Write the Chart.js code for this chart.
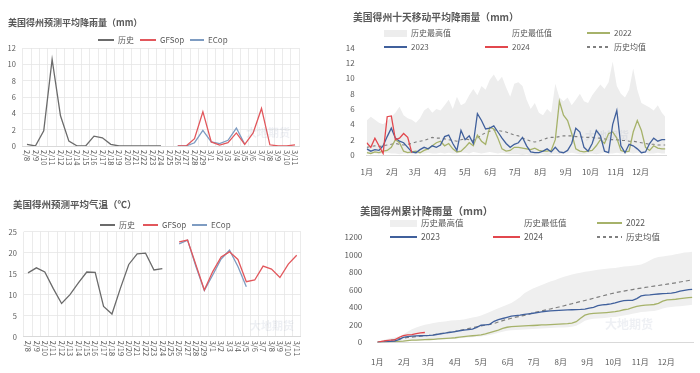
<!DOCTYPE html>
<html>
<head>
<meta charset="utf-8">
<script src="https://cdn.jsdelivr.net/npm/chart.js@4.4.1/dist/chart.umd.min.js"></script>
<style>
  body { margin: 0; width: 700px; height: 373px; position: relative; overflow: hidden; background: #fff;
         font-family: "Noto Sans CJK SC", "Noto Sans", sans-serif; color: #595959; }
  canvas { position: absolute; }
  .title { position: absolute; font-weight: bold; white-space: nowrap; line-height: 1; color: #595959; }
  .lg { position: absolute; white-space: nowrap; line-height: 1; color: #595959; }
  .mk { position: absolute; }
  .wm { position: absolute; white-space: nowrap; line-height: 1; font-weight: bold; color: rgba(120,140,170,0.13); }
</style>
</head>
<body>
<script>
// ---- forecast panels (left) ----
const dateLabels = ['2/8','2/9','2/10','2/11','2/12','2/13','2/14','2/15','2/16','2/17','2/18','2/19','2/20','2/21','2/22','2/23','2/24','2/25','2/26','2/27','2/28','2/29','3/1','3/2','3/3','3/4','3/5','3/6','3/7','3/8','3/9','3/10','3/11'];

const rainHist = [0.2, 0, 1.85, 10.6, 3.7, 0.6, 0, 0, 1.2, 1.0, 0.2, 0, 0, 0, 0, 0, 0,
  null, null, null, null, null, null, null, null, null, null, null, null, null, null, null, null];
const rainGfs = [null, null, null, null, null, null, null, null, null, null, null, null, null, null, null, null, null, null,
  0, 0, 0.9, 4.2, 0.5, 0.1, 0.4, 1.6, 0.2, 1.6, 4.6, 0.15, 0, 0, 0.15];
const rainEc = [null, null, null, null, null, null, null, null, null, null, null, null, null, null, null, null, null, null,
  0, 0, 0.4, 1.9, 0.5, 0.3, 0.7, 2.2, 0.2, null, null, null, null, null, null];

const tempHist = [15.2, 16.4, 15.4, 11.5, 7.9, 10.0, 12.8, 15.4, 15.3, 7.2, 5.4, 11.5, 17.2, 19.7, 19.9, 15.9, 16.2,
  null, null, null, null, null, null, null, null, null, null, null, null, null, null, null, null];
const tempGfs = [null, null, null, null, null, null, null, null, null, null, null, null, null, null, null, null, null, null,
  22.6, 23.0, 17.1, 11.1, 15.5, 19.0, 20.2, 18.4, 13.1, 13.5, 16.8, 16.1, 14.1, 17.3, 19.4];
const tempEc = [null, null, null, null, null, null, null, null, null, null, null, null, null, null, null, null, null, null,
  22.1, 23.0, 16.7, 11.0, 14.7, 18.5, 20.6, 16.7, 11.9, null, null, null, null, null, null];

// ---- seasonal panels (right), one value every 5 days from Jan 1, last one Dec 31 ----
const monthLabels = ['1月','2月','3月','4月','5月','6月','7月','8月','9月','10月','11月','12月'];
const monthStarts = [0, 31, 59, 90, 120, 151, 181, 212, 243, 273, 304, 334];

const max10 = [4.5, 5.0, 4.6, 4.2, 4.0, 4.4, 5.0,  5.5, 6.3, 5.2, 4.8, 4.6,  4.2, 4.8, 5.8, 6.2, 5.5, 6.0,
  5.8, 6.5, 7.2, 6.0, 7.6, 6.5,  6.8, 7.8, 8.6, 7.8, 9.0, 8.5, 9.8,  10.5, 9.6, 10.2, 8.8, 7.6, 9.3,
  9.5, 9.0, 7.2, 6.0, 6.8, 5.5,  5.2, 6.0, 5.5, 9.3, 7.5, 7.0,  7.5, 6.5, 7.2, 8.0, 7.0, 6.8,
  7.8, 8.5, 9.2, 8.6, 9.5, 12.2,  9.0, 8.0, 7.5, 8.5, 11.3, 8.5,  6.8, 6.5, 6.2, 5.8, 6.5, 5.5,  5.0];
const min10 = [0.3, 0.2, 0.2, 0.1, 0.2, 0.3, 0.2,  0.2, 0.1, 0.2, 0.2, 0.1,  0.1, 0.2, 0.2, 0.3, 0.2, 0.2,
  0.3, 0.2, 0.3, 0.2, 0.2, 0.3,  0.3, 0.2, 0.4, 0.3, 0.2, 0.3, 0.4,  0.3, 0.2, 0.3, 0.2, 0.1, 0.1,
  0.1, 0.0, 0.1, 0.0, 0.0, 0.1,  0.1, 0.0, 0.1, 0.2, 0.1, 0.2,  0.2, 0.3, 0.2, 0.1, 0.1, 0.2,
  0.2, 0.1, 0.2, 0.3, 0.2, 0.2,  0.3, 0.2, 0.2, 0.3, 0.2, 0.3,  0.2, 0.3, 0.2, 0.2, 0.3, 0.2,  0.2];
const avg10 = [1.0, 1.1, 1.2, 1.1, 1.2, 1.3, 1.4,  1.5, 1.4, 1.3, 1.4, 1.5,  1.7, 1.8, 1.9, 2.1, 2.3, 2.2,
  2.2, 2.1, 2.0, 1.9, 1.8, 2.0,  2.1, 2.0, 1.9, 2.2, 2.6, 2.9, 3.1,  3.3, 3.2, 3.1, 3.0, 2.8, 2.6,
  2.5, 2.2, 2.0, 1.8, 1.7, 1.8,  2.0, 2.2, 2.3, 2.3, 2.4, 2.5,  2.5, 2.5, 2.4, 2.4, 2.3, 2.3,
  2.3, 2.2, 2.2, 2.1, 2.0, 2.0,  2.0, 1.9, 1.9, 1.8, 1.8, 1.7,  1.6, 1.5, 1.4, 1.4, 1.3, 1.3,  1.3];
const y2022_10 = [0.3, 0.2, 0.4, 0.3, 0.5, 0.6, 1.0,  2.0, 1.6, 0.5, 0.3, 0.4,  0.5, 0.3, 0.6, 0.8, 1.2, 1.6,
  1.8, 1.2, 1.5, 0.8, 0.4, 0.5,  1.0, 1.6, 1.2, 2.6, 1.8, 1.4, 3.6,  3.4, 2.2, 0.8, 0.5, 0.6, 1.0,
  1.0, 0.9, 0.8, 0.7, 0.9, 0.6,  0.5, 0.5, 0.6, 2.0, 7.0, 5.2,  4.5, 2.8, 0.8, 0.5, 0.4, 0.5,
  0.6, 1.2, 2.0, 1.5, 2.8, 3.0,  2.2, 0.6, 0.4, 0.5, 3.0, 4.5,  3.2, 1.0, 0.6, 1.2, 0.9, 0.8,  0.8];
const y2023_10 = [0.8, 0.5, 0.7, 0.6, 1.2, 2.4, 3.5,  2.2, 1.8, 1.6, 1.0, 0.4,  0.3, 0.7, 1.0, 0.8, 1.2, 1.0,
  1.3, 2.4, 2.6, 1.5, 0.6, 3.2,  2.0, 2.5, 1.5, 5.4, 4.5, 3.4, 3.5,  3.8, 3.0, 2.2, 1.5, 1.0, 1.4,
  1.6, 2.3, 1.2, 0.4, 0.3, 0.3,  0.5, 0.8, 0.4, 1.0, 0.4, 0.3,  0.6, 1.5, 3.5, 3.0, 1.0, 0.5,
  1.5, 3.2, 2.5, 0.5, 0.3, 4.0,  5.8, 1.2, 0.3, 1.4, 1.2, 0.8,  0.3, 0.4, 1.5, 2.2, 1.8, 2.0,  2.0];
const y2024_10 = [1.6, 1.0, 2.2, 1.2, 0.2, 5.0, 5.1, 2.0, 2.2, 2.8, 2.3, 0.3];

const maxCum = [0, 20, 35, 45, 55, 70, 90,  120, 150, 170, 185, 200,  210, 220, 228, 235, 242, 248,
  252, 256, 262, 272, 283, 292,  305, 325, 345, 368, 390, 410, 430,  450, 480, 515, 560, 590, 615,
  635, 655, 675, 695, 710, 730,  745, 760, 775, 785, 795, 805,  812, 820, 828, 835, 840, 845,
  850, 858, 865, 870, 876, 880,  890, 910, 935, 960, 975, 982,  988, 995, 1005, 1015, 1025, 1030,  1035];
const minCum = [0, 1, 3, 4, 6, 8, 10,  14, 17, 19, 21, 23,  25, 27, 30, 33, 36, 38,
  41, 45, 50, 55, 59, 63,  67, 74, 84, 96, 108, 122, 132,  138, 141, 144, 147, 150, 153,
  156, 159, 161, 164, 166, 168,  170, 173, 177, 188, 215, 245,  262, 268, 272, 276, 280, 285,
  290, 298, 306, 314, 325, 336,  345, 350, 354, 358, 368, 386,  398, 403, 408, 413, 419, 424,  428];
const avgCum = [0, 8, 16, 24, 32, 40, 48,  55, 60, 65, 70, 74,  78, 86, 95, 103, 110, 117,
  125, 135, 145, 156, 167, 178,  187, 196, 205, 215, 232, 248, 262,  275, 287, 297, 308, 320, 335,
  347, 358, 370, 381, 392, 403,  415, 428, 441, 454, 466, 478,  490, 503, 516, 529, 542, 555,
  566, 576, 585, 594, 603, 612,  619, 627, 635, 642, 649, 657,  664, 672, 680, 689, 698, 706,  712];
const y2022Cum = [0, 2, 4, 6, 8, 10, 14,  20, 24, 26, 28, 30,  32, 34, 38, 42, 45, 48,
  52, 58, 64, 70, 75, 80,  85, 95, 110, 125, 140, 160, 172,  180, 182, 185, 188, 190, 192,
  195, 198, 200, 203, 206, 208,  210, 213, 218, 235, 275, 310,  325, 330, 333, 336, 340, 345,
  350, 360, 372, 380, 395, 410,  420, 425, 428, 432, 445, 470,  485, 488, 492, 498, 505, 510,  514];
const y2023Cum = [0, 3, 6, 10, 15, 30, 55,  65, 70, 73, 75, 76,  78, 82, 92, 100, 108, 115,
  122, 132, 140, 146, 150, 170,  195, 200, 205, 240, 260, 272, 285,  298, 305, 310, 318, 325, 332,
  340, 348, 355, 360, 362, 365,  368, 370, 372, 374, 376, 380,  390, 400, 418, 428, 432, 438,
  450, 465, 476, 478, 480, 500,  530, 540, 543, 548, 552, 556,  558, 562, 570, 584, 594, 602,  606];
const y2024Cum = [0, 10, 20, 25, 28, 55, 75, 85, 88, 100, 108, 112];

const sampleDays = Array.from({ length: 73 }, (_, i) => i * 5).concat([364]);
const pts = vals => vals.map((v, i) => ({ x: sampleDays[i], y: v }));

const FONT = '"Noto Sans CJK SC", "Noto Sans", sans-serif';
const GREY = '#595959';

function addCanvas(left, top, w, h) {
  const c = document.createElement('canvas');
  c.width = w; c.height = h;
  c.style.left = left + 'px'; c.style.top = top + 'px';
  c.style.width = w + 'px'; c.style.height = h + 'px';
  document.body.appendChild(c);
  return c;
}

function addText(cls, x, y, size, text) {
  const d = document.createElement('div');
  d.className = cls;
  d.style.left = x + 'px';
  d.style.top = (y - size * 0.55) + 'px';
  d.style.fontSize = size + 'px';
  d.textContent = text;
  document.body.appendChild(d);
}

function addLegend(items, size) {
  items.forEach(it => {
    const m = document.createElement('div');
    m.className = 'mk';
    m.style.left = it.x + 'px';
    m.style.width = it.w + 'px';
    if (it.kind === 'box') {
      m.style.top = (it.y - 3.5) + 'px';
      m.style.height = '7px';
      m.style.background = it.color;
    } else if (it.kind === 'dash') {
      m.style.top = (it.y - 0.75) + 'px';
      m.style.height = '1.5px';
      m.style.background = `repeating-linear-gradient(90deg, ${it.color} 0 3px, transparent 3px 6px)`;
    } else {
      m.style.top = (it.y - 0.75) + 'px';
      m.style.height = '1.5px';
      m.style.background = it.color;
    }
    document.body.appendChild(m);
    addText('lg', it.x + it.w + 4, it.y, size, it.text);
  });
}

// labels on the forecast charts read top to bottom
const rotatedLabels = {
  id: 'rotatedLabels',
  afterDraw(chart) {
    const xs = chart.scales.x;
    const ctx = chart.ctx;
    ctx.save();
    ctx.font = '7.5px ' + FONT;
    ctx.fillStyle = GREY;
    ctx.textAlign = 'left';
    ctx.textBaseline = 'middle';
    chart.data.labels.forEach((lab, i) => {
      ctx.save();
      ctx.translate(xs.getPixelForValue(i), xs.top + 4);
      ctx.rotate(Math.PI / 2);
      ctx.fillText(lab, 0, 0);
      ctx.restore();
    });
    ctx.restore();
  }
};

function lineSet(label, data, color, extra) {
  return Object.assign({ label, data, borderColor: color, backgroundColor: color, borderWidth: 1.3,
    pointRadius: 0, tension: 0, fill: false }, extra || {});
}

function forecastChart(canvas, sets, yMax, yStep, box) {
  return new Chart(canvas, {
    type: 'line',
    data: { labels: dateLabels, datasets: sets },
    options: {
      responsive: false, animation: false, devicePixelRatio: 1,
      layout: { padding: { top: box.top, right: box.right, left: 0, bottom: 0 } },
      plugins: { legend: { display: false }, tooltip: { enabled: false } },
      scales: {
        x: {
          offset: true,
          grid: { offset: true, color: '#e6e6e6', lineWidth: 0.8, drawTicks: false },
          border: { color: '#d9d9d9' },
          ticks: { display: false },
          afterFit: s => { s.height = box.xh; }
        },
        y: {
          min: 0, max: yMax,
          ticks: { stepSize: yStep, color: GREY, font: { size: 7.5, family: FONT }, padding: 7 },
          grid: { color: '#e6e6e6', lineWidth: 0.8, drawTicks: false },
          border: { display: false },
          afterFit: s => { s.width = box.yw; }
        }
      }
    },
    plugins: [rotatedLabels]
  });
}

function seasonChart(canvas, sets, yMax, yStep, box) {
  return new Chart(canvas, {
    type: 'line',
    data: { datasets: sets },
    options: {
      responsive: false, animation: false, devicePixelRatio: 1,
      layout: { padding: { top: box.top, right: box.right, left: 0, bottom: 0 } },
      plugins: { legend: { display: false }, tooltip: { enabled: false } },
      scales: {
        x: {
          type: 'linear', min: 0, max: 365,
          afterBuildTicks: s => { s.ticks = monthStarts.map(v => ({ value: v })); },
          ticks: { callback: (v, i) => monthLabels[i], autoSkip: false, maxRotation: 0,
                   color: GREY, font: { size: 8, family: FONT }, padding: box.xpad },
          grid: { display: false },
          border: { color: '#d9d9d9' },
          afterFit: s => { s.height = box.xh; }
        },
        y: {
          min: 0, max: yMax,
          ticks: { stepSize: yStep, callback: v => String(v), color: GREY,
                   font: { size: 8, family: FONT }, padding: box.ypad },
          grid: { display: false },
          border: { display: false },
          afterFit: s => { s.width = box.yw; }
        }
      }
    }
  });
}

// ---- top left: forecast rain ----
forecastChart(addCanvas(0, 0, 320, 185), [
  lineSet('历史', rainHist, '#6b6b6b'),
  lineSet('GFSop', rainGfs, '#e2575c'),
  lineSet('ECop', rainEc, '#7e9cc2')
], 12, 2, { top: 48, right: 20.8, yw: 22.8, xh: 39 });

// ---- bottom left: forecast temperature ----
forecastChart(addCanvas(0, 190, 320, 183), [
  lineSet('历史', tempHist, '#6b6b6b'),
  lineSet('GFSop', tempGfs, '#e2575c'),
  lineSet('ECop', tempEc, '#7e9cc2')
], 25, 5, { top: 41.7, right: 19.1, yw: 23.8, xh: 36.3 });

// ---- top right: 10 day moving average ----
seasonChart(addCanvas(345, 0, 355, 185), [
  lineSet('2024', pts(y2024_10), '#e2474d', { order: 0 }),
  lineSet('2023', pts(y2023_10), '#40609c', { order: 1 }),
  lineSet('2022', pts(y2022_10), '#a6b26a', { order: 2 }),
  lineSet('历史均值', pts(avg10), '#7f7f7f', { order: 3, borderDash: [3, 3], borderWidth: 1.1 }),
  lineSet('历史最低值', pts(min10), '#ffffff', { order: 4, borderWidth: 0, fill: 'origin', backgroundColor: '#ffffff' }),
  lineSet('历史最高值', pts(max10), '#ededed', { order: 5, borderWidth: 0, fill: 'origin', backgroundColor: '#ededed' })
], 14, 2, { top: 47.7, right: 34, yw: 21.7, xh: 30, xpad: 4, ypad: 4 });

// ---- bottom right: cumulative ----
seasonChart(addCanvas(345, 190, 355, 183), [
  lineSet('2024', pts(y2024Cum), '#e2474d', { order: 0 }),
  lineSet('2023', pts(y2023Cum), '#40609c', { order: 1 }),
  lineSet('2022', pts(y2022Cum), '#a6b26a', { order: 2 }),
  lineSet('历史均值', pts(avgCum), '#7f7f7f', { order: 3, borderDash: [4, 3], borderWidth: 1.2 }),
  lineSet('历史最低值', pts(minCum), '#ffffff', { order: 4, borderWidth: 0, fill: 'origin', backgroundColor: '#ffffff' }),
  lineSet('历史最高值', pts(maxCum), '#efefef', { order: 5, borderWidth: 0, fill: 'origin', backgroundColor: '#efefef' })
], 1200, 200, { top: 47.3, right: 7, yw: 32.3, xh: 30.7, xpad: 7, ypad: 7 });

// ---- titles ----
addText('title', 8, 23, 9, '美国得州预测平均降雨量（mm）');
addText('title', 13, 205, 9.5, '美国得州预测平均气温（℃）');
addText('title', 353, 18, 9.8, '美国得州十天移动平均降雨量（mm）');
addText('title', 360, 212, 10.3, '美国得州累计降雨量（mm）');

// ---- legends ----
addLegend([
  { x: 98, y: 40, w: 16, kind: 'line', color: '#6b6b6b', text: '历史' },
  { x: 140, y: 40, w: 16, kind: 'line', color: '#e2575c', text: 'GFSop' },
  { x: 190, y: 40, w: 14, kind: 'line', color: '#7e9cc2', text: 'ECop' }
], 8);
addLegend([
  { x: 100, y: 225, w: 15, kind: 'line', color: '#6b6b6b', text: '历史' },
  { x: 143, y: 225, w: 15, kind: 'line', color: '#e2575c', text: 'GFSop' },
  { x: 192, y: 225, w: 15, kind: 'line', color: '#7e9cc2', text: 'ECop' }
], 8);
addLegend([
  { x: 384, y: 33, w: 23, kind: 'box', color: '#ededed', text: '历史最高值' },
  { x: 485, y: 33, w: 23, kind: 'box', color: '#ffffff', text: '历史最低值' },
  { x: 587, y: 33, w: 23, kind: 'line', color: '#a6b26a', text: '2022' },
  { x: 384, y: 47, w: 23, kind: 'line', color: '#40609c', text: '2023' },
  { x: 485, y: 47, w: 23, kind: 'line', color: '#e2474d', text: '2024' },
  { x: 587, y: 47, w: 23, kind: 'dash', color: '#7f7f7f', text: '历史均值' }
], 8);
addLegend([
  { x: 390, y: 223, w: 27, kind: 'box', color: '#efefef', text: '历史最高值' },
  { x: 493, y: 223, w: 27, kind: 'box', color: '#ffffff', text: '历史最低值' },
  { x: 597, y: 223, w: 25, kind: 'line', color: '#a6b26a', text: '2022' },
  { x: 390, y: 237, w: 27, kind: 'line', color: '#40609c', text: '2023' },
  { x: 493, y: 237, w: 27, kind: 'line', color: '#e2474d', text: '2024' },
  { x: 597, y: 237, w: 25, kind: 'dash', color: '#7f7f7f', text: '历史均值' }
], 8.5);

// ---- faint watermarks ----
addText('wm', 246, 133, 11, '大地期货');
addText('wm', 250, 326, 11, '大地期货');
addText('wm', 585, 136, 11, '大地期货');
addText('wm', 605, 325, 12, '大地期货');
</script>
</body>
</html>
